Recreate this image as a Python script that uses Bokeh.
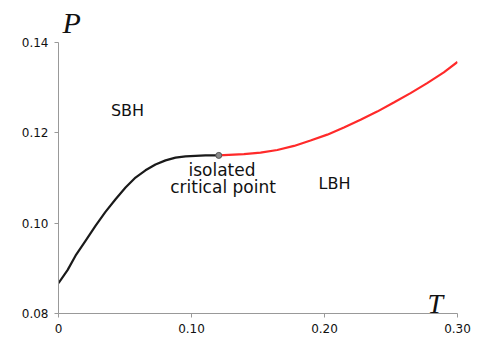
from bokeh.plotting import figure
from bokeh.models import Range1d, FixedTicker, Label
from bokeh.embed import file_html
from bokeh.resources import INLINE

# Small black hole branch (black curve) up to the isolated critical point
T_black = [0.0, 0.0068, 0.0128, 0.0203, 0.0278, 0.0353, 0.0429, 0.0504, 0.0579,
           0.0654, 0.0729, 0.0805, 0.0880, 0.0955, 0.1030, 0.1105, 0.1205]
P_black = [0.0867, 0.0896, 0.0928, 0.0961, 0.0994, 0.1025, 0.1053, 0.1079, 0.1101,
           0.1117, 0.1130, 0.1139, 0.1145, 0.1148, 0.1149, 0.1150, 0.1150]

# Large black hole branch (red curve)
T_red = [0.1205, 0.1394, 0.1519, 0.1645, 0.1771, 0.1895, 0.2021, 0.2146, 0.2271,
         0.2396, 0.2521, 0.2647, 0.2772, 0.2897, 0.3000]
P_red = [0.1150, 0.1153, 0.1156, 0.1162, 0.1171, 0.1183, 0.1196, 0.1212, 0.1229,
         0.1247, 0.1267, 0.1288, 0.1310, 0.1334, 0.1357]

# Isolated critical point
T_crit = [0.1205]
P_crit = [0.1150]

x_ticks = [0.0, 0.10, 0.20, 0.30]
x_tick_labels = ["0", "0.10", "0.20", "0.30"]
y_ticks = [0.08, 0.10, 0.12, 0.14]
y_tick_labels = ["0.08", "0.10", "0.12", "0.14"]

p = figure(width=488, height=349, output_backend="svg", toolbar_location=None,
           x_range=Range1d(0.0, 0.30), y_range=Range1d(0.08, 0.14),
           min_border_left=58, min_border_right=31, min_border_top=40,
           min_border_bottom=36, title="P")
p.outline_line_color = None
p.grid.visible = False
p.background_fill_color = "white"
p.border_fill_color = "white"

# Axis symbol P drawn as the title (outside the frame)
p.title.text_font = "Liberation Serif"
p.title.text_font_style = "italic"
p.title.text_font_size = "30px"
p.title.text_color = "#111111"
p.title.align = "left"
p.title.offset = 4
p.title.standoff = 7

for ax in (p.xaxis[0], p.yaxis[0]):
    ax.axis_line_color = "#999999"
    ax.axis_line_width = 1
    ax.major_tick_line_color = "#999999"
    ax.major_tick_out = 4
    ax.major_tick_in = 0
    ax.minor_tick_line_color = None
    ax.major_label_text_font = "DejaVu Sans"
    ax.major_label_text_font_size = "12px"
    ax.major_label_text_color = "#111111"
    ax.major_label_standoff = 6

p.xaxis[0].ticker = FixedTicker(ticks=x_ticks)
p.xaxis[0].major_label_overrides = dict(zip(x_ticks, x_tick_labels))
p.yaxis[0].ticker = FixedTicker(ticks=y_ticks)
p.yaxis[0].major_label_overrides = dict(zip(y_ticks, y_tick_labels))

p.line(T_black, P_black, line_color="#1a1a1a", line_width=2.2)
p.line(T_red, P_red, line_color="#ff2a2a", line_width=2.2)
p.scatter(T_crit, P_crit, size=6, fill_color="#8a8a8a", line_color="#555555",
          line_width=1)

# Axis symbol T
p.add_layout(Label(x=0.2775, y=0.0822, text="T", text_font="Liberation Serif",
                   text_font_style="italic", text_font_size="28px",
                   text_color="#111111", text_baseline="alphabetic"))

# Region annotations
common = dict(text_font="DejaVu Sans", text_color="#111111",
              text_align="center", text_baseline="alphabetic")
p.add_layout(Label(x=0.0519, y=0.1250, text="SBH", text_font_size="16px", **common))
p.add_layout(Label(x=0.2075, y=0.1087, text="LBH", text_font_size="16px", **common))
p.add_layout(Label(x=0.1229, y=0.1118, text="isolated", text_font_size="17px", **common))
p.add_layout(Label(x=0.1237, y=0.1079, text="critical point", text_font_size="17px", **common))

open("out.html", "w").write(file_html(p, INLINE))
